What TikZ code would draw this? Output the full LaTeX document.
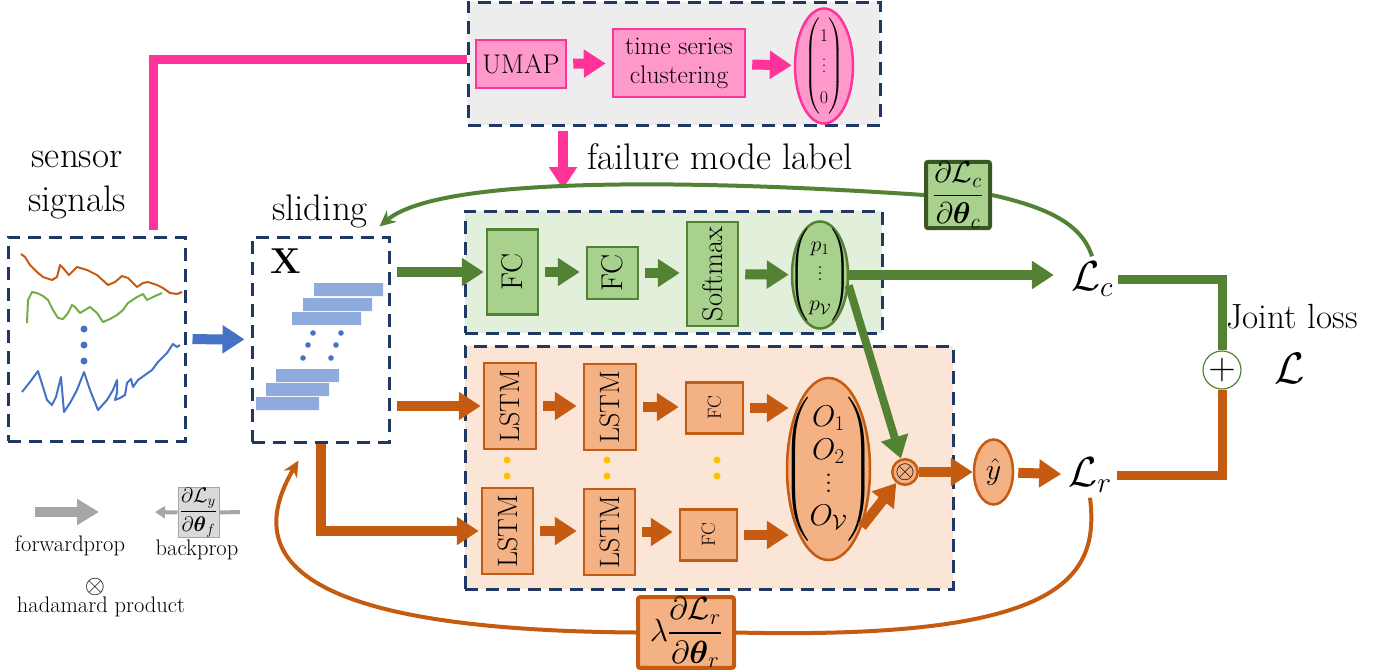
\RequirePackage{fix-cm}
\documentclass[tikz,border=0pt]{standalone}
\usepackage{amsmath, amssymb}
\usepackage{xcolor}
\usetikzlibrary{arrows.meta,shapes.geometric}

\definecolor{pnkL}{HTML}{FF3399}
\definecolor{pnkF}{HTML}{FF99CC}
\definecolor{grnL}{HTML}{548235}
\definecolor{grnS}{HTML}{70AD47}
\definecolor{grnD}{HTML}{385723}
\definecolor{grnF}{HTML}{A9D18E}
\definecolor{grnB}{HTML}{E2EFDA}
\definecolor{orgL}{HTML}{C55A11}
\definecolor{orgF}{HTML}{F4B183}
\definecolor{orgB}{HTML}{FBE5D6}
\definecolor{navy}{HTML}{203864}
\definecolor{bluL}{HTML}{4472C4}
\definecolor{bluF}{HTML}{8FAADC}
\definecolor{yel}{HTML}{FFC000}
\definecolor{gryB}{HTML}{EDEDED}
\definecolor{gryA}{HTML}{A6A6A6}
\definecolor{gryL}{HTML}{D9D9D9}

% vertical dots of a given step
\newcommand\vdotz[1]{\vbox{\baselineskip#1\lineskiplimit0pt\kern1.2#1\hbox{.}\hbox{.}\hbox{.}}}
% centred content that does not widen its node
\newcommand\zbox[1]{\raisebox{-0.25em}[0pt][0pt]{\makebox[0pt]{#1}}}

\begin{document}
\begin{tikzpicture}[x=1pt,y=-1pt,
		every node/.style={inner sep=0pt},
		txt/.style={font=\fontsize{37}{44}\selectfont},
		mid/.style={font=\fontsize{27}{30}\selectfont},
		sml/.style={font=\fontsize{22.5}{25}\selectfont},
		big/.style={font=\fontsize{42}{44}\selectfont},
		grp/.style={draw=navy, line width=3pt, dash pattern=on 13pt off 8pt},
		blk/.style={rectangle, line width=2.5pt, mid},
		pblk/.style={blk, draw=pnkL, fill=pnkF},
		gblk/.style={blk, draw=grnL, fill=grnF},
		oblk/.style={blk, draw=orgL, fill=orgF},
		vec/.style={ellipse, line width=2.5pt},
		arr/.style={line width=10pt, -{Triangle[length=22pt,width=27pt]}, shorten <=6pt, shorten >=6pt},
		grad/.style={line width=4pt, rounded corners=2pt}]
		\useasboundingbox (0,0) rectangle (1385,672);
		% groups
		\node[grp, fill=gryB, minimum width=412pt, minimum height=123pt] (TOPB) at (674,63.5) {};
		\node[grp, fill=grnB, minimum width=417pt, minimum height=122pt] (GRB) at (673.5,272) {};
		\node[grp, fill=orgB, minimum width=488pt, minimum height=243pt] (ORB) at (709,467.5) {};
		\node[grp, minimum width=177pt, minimum height=204pt] (SEN) at (96.5,339) {};
		\node[grp, minimum width=137pt, minimum height=205pt] (SLD) at (320.5,339.5) {};
		%
		\node[txt, align=center] (SST) at (77,185) {sensor\\signals};
		\node[txt] (SLT) at (320,211) {sliding};
		\node[font=\fontsize{36}{40}\selectfont] (XX) at (286,261) {\textbf{X}};
		\node[txt] (FMT) at (720,157) {failure mode label};
		% signals
		\draw[orgL, line width=2pt, line join=round] (21,254) -- (25,257) -- (30,265) -- (37,272) -- (43,277) -- (52,280) -- (57,277) -- (60,265) -- (63,268) -- (69,275) -- (77,267) -- (87,270) -- (97,275) -- (108,285) -- (115,282) -- (122,276) -- (128,278) -- (137,287) -- (143,283) -- (148,282) -- (157,285) -- (163,288) -- (170,293) -- (177,294) -- (182,292);
		\draw[grnS, line width=2pt, line join=round] (27,323) -- (28,300) -- (32,292) -- (37,293) -- (43,296) -- (48,300) -- (53,310) -- (58,318) -- (63,319) -- (68,313) -- (72,305) -- (75,307) -- (80,313) -- (85,310) -- (90,307) -- (97,313) -- (103,322) -- (110,319) -- (117,315) -- (123,310) -- (128,303) -- (137,297) -- (143,294) -- (147,300) -- (153,297) -- (162,293);
		\draw[bluL, line width=2pt, line join=round] (22,392) -- (30,382) -- (38,371) -- (43,387) -- (47,400) -- (52,405) -- (56,397) -- (61,377) -- (64,412) -- (70,403) -- (77,390) -- (84,372) -- (90,390) -- (98,410) -- (107,400) -- (113,390) -- (117,380) -- (117,393) -- (115,400) -- (120,398) -- (125,395) -- (127,383) -- (131,379) -- (133,387) -- (138,380) -- (145,375) -- (152,370) -- (158,362) -- (167,353) -- (173,344) -- (177,347) -- (180,345);
		\fill[bluL] (84,329) circle (3.5pt) (84,345) circle (3.5pt) (84,361) circle (3.5pt);
		% windows
		\fill[bluF] (314,283) rectangle (383,296) (303,298) rectangle (372,311) (292,312) rectangle (361,325)
			(276,369) rectangle (339,382) (266,383) rectangle (329,396) (256,397) rectangle (319,410);
		\fill[bluL] (313,333) circle (2.8pt) (341,333) circle (2.8pt) (308,345) circle (2.8pt) (336,345) circle (2.8pt) (303,358) circle (2.8pt) (331,358) circle (2.8pt);
		% clustering
		\node[pblk, minimum width=90pt, minimum height=48pt] (UMAP) at (521,64) {UMAP};
		\node[pblk, minimum width=132pt, minimum height=68pt, align=center, font=\fontsize{25.5}{29}\selectfont] (TSC) at (679,63) {time series\\clustering};
		\node[vec, draw=pnkL, fill=pnkF, minimum width=58pt, minimum height=115pt, font=\fontsize{18}{20}\selectfont] (ONE) at (824,66)
			{\renewcommand\arraystretch{1.55}\zbox{$\begin{pmatrix}1\\ \vdotz{6pt}\\ 0\end{pmatrix}$}};
		% classifier
		\node[gblk, minimum width=51pt, minimum height=85pt, font=\fontsize{30}{32}\selectfont] (FC1) at (512.5,272) {\rotatebox{90}{FC}};
		\node[gblk, minimum width=51pt, minimum height=52pt, font=\fontsize{30}{32}\selectfont] (FC2) at (612.5,273) {\rotatebox{90}{FC}};
		\node[gblk, minimum width=51pt, minimum height=104pt, font=\fontsize{28.5}{30}\selectfont] (SMX) at (712.5,274) {\rotatebox{90}{Softmax}};
		\node[vec, draw=grnL, fill=grnF, minimum width=56pt, minimum height=107pt, font=\fontsize{22}{26}\selectfont] (PV) at (820,275)
			{\renewcommand\arraystretch{1.15}\zbox{$\begin{pmatrix}p_1\\ \vdotz{6pt}\\ p_{\mathcal{V}}\end{pmatrix}$}};
		% regressor
		\node[oblk, minimum width=52pt, minimum height=86pt, font=\fontsize{28}{30}\selectfont] (LA1) at (510,406) {\rotatebox{90}{LSTM}};
		\node[oblk, minimum width=52pt, minimum height=86pt, font=\fontsize{28}{30}\selectfont] (LA2) at (610,407) {\rotatebox{90}{LSTM}};
		\node[oblk, minimum width=57pt, minimum height=51pt, font=\fontsize{19}{20}\selectfont] (FCA) at (714.5,408) {\rotatebox{90}{FC}};
		\node[oblk, minimum width=51pt, minimum height=86pt, font=\fontsize{28}{30}\selectfont] (LB1) at (507.5,531) {\rotatebox{90}{LSTM}};
		\node[oblk, minimum width=51pt, minimum height=86pt, font=\fontsize{28}{30}\selectfont] (LB2) at (609.5,532) {\rotatebox{90}{LSTM}};
		\node[oblk, minimum width=57pt, minimum height=51pt, font=\fontsize{19}{20}\selectfont] (FCB) at (708.5,535) {\rotatebox{90}{FC}};
		\node[vec, draw=orgL, fill=orgF, minimum width=83pt, minimum height=182pt, font=\fontsize{30}{33}\selectfont] (OV) at (828.5,469)
			{\zbox{$\begin{pmatrix}O_1\\ O_2\\ \vdotz{8pt}\\ O_{\mathcal{V}}\end{pmatrix}$}};
		\fill[yel] (507,460) circle (3.5pt) (507,476) circle (3.5pt) (607,460) circle (3.5pt) (607,476) circle (3.5pt) (717,460) circle (3.5pt) (717,476) circle (3.5pt);
		\node[circle, draw=orgL, fill=orgF, line width=2.5pt, font=\fontsize{25}{25}\selectfont] (MUL) at (905,472) {$\otimes$};
		\node[vec, draw=orgL, fill=orgF, minimum width=39pt, minimum height=65pt, font=\fontsize{30}{30}\selectfont] (YH) at (993.5,472) {\zbox{$\hat{y}$}};
		% losses
		\node[big, inner sep=5pt] (LC) at (1092,279) {$\mathcal{L}_c$};
		\node[big, inner sep=5pt] (LR) at (1090,475) {$\mathcal{L}_r$};
		\node[circle, draw=grnL, fill=white, line width=1.2pt, minimum size=38pt, font=\fontsize{38}{38}\selectfont] (ADD) at (1222,370) {$+$};
		\node[font=\fontsize{35}{40}\selectfont] (JLT) at (1292,317) {Joint loss};
		\node[font=\fontsize{44}{44}\selectfont] (JL) at (1290,368) {$\mathcal{L}$};
		\node[draw=grnD, fill=grnF, grad, minimum width=64pt, minimum height=60pt, font=\fontsize{30}{30}\selectfont] (DLC) at (958,195)
			{$\displaystyle\frac{\partial\mathcal{L}_c}{\partial\boldsymbol{\theta}_c}$};
		\node[draw=orgL, fill=orgF, grad, minimum width=96pt, minimum height=61pt, font=\fontsize{32}{32}\selectfont] (BLR) at (686,632.5)
			{$\displaystyle\lambda\frac{\partial\mathcal{L}_r}{\partial\boldsymbol{\theta}_r}$};
		% legend
		\coordinate (FW1) at (35,512);
		\coordinate (FW2) at (99,512);
		\coordinate (BP1) at (240,512);
		\coordinate (BP2) at (155,512);
		\node[draw=gryA, fill=gryL, line width=1pt, minimum width=41pt, minimum height=41pt, font=\fontsize{21}{21}\selectfont] (BPB) at (198.5,512.5)
			{$\displaystyle\frac{\partial\mathcal{L}_y}{\partial\boldsymbol{\theta}_f}$};
		\node[sml] (FWT) at (70,546) {forwardprop};
		\node[sml] (BPT) at (197,550) {backprop};
		\node[font=\fontsize{26}{26}\selectfont] (HDS) at (95,587) {$\otimes$};
		\node[sml] (HDT) at (101,607) {hadamard product};
		%
		\draw[gryA, line width=10pt, -{Triangle[length=22pt,width=25pt]}] (FW1) -- (FW2);
		\draw[gryA, line width=4pt] (BP1) -- (BPB.east);
		\draw[gryA, line width=4pt, -{Triangle[length=10pt,width=12pt]}] (BPB.west) -- (BP2);
		% connectors
		\coordinate (FML) at (563,189);
		\draw[pnkL, line width=9pt] ([xshift=56.5pt,yshift=6pt]SEN.north) |- ([yshift=4pt]TOPB.west);
		\draw[arr, draw=pnkL, shorten <=4pt, shorten >=0pt] (TOPB.south -| FML) -- (FML);
		\draw[arr, draw=pnkL] (UMAP) -- (TSC);
		\draw[arr, draw=pnkL, shorten >=2pt] (TSC) -- (ONE);
		\draw[arr, draw=bluL] (SEN) -- (SLD);
		%
		\draw[arr, draw=grnL, shorten >=2pt] (SLD.east |- FC1) -- (FC1.west);
		\draw[arr, draw=grnL] (FC1) -- (FC1 -| FC2.west);
		\draw[arr, draw=grnL] (FC2) -- (FC2 -| SMX.west);
		\draw[arr, draw=grnL, shorten >=2pt] (SMX) -- (PV);
		\draw[arr, draw=grnL, shorten <=0pt, shorten >=12pt] (PV.east) -- (PV.east -| LC.west);
		\draw[arr, draw=grnL, line width=8pt, shorten <=0pt, shorten >=0pt] (PV.-20) -- (MUL);
		%
		\draw[arr, draw=orgL, shorten >=2pt] (SLD.east |- LA1) -- (LA1.west);
		\draw[arr, draw=orgL, shorten <=0pt, shorten >=2pt] (SLD.south) |- (LB1.west);
		\draw[arr, draw=orgL] (LA1) -- (LA1 -| LA2.west);
		\draw[arr, draw=orgL] (LA2) -- (LA2 -| FCA.west);
		\draw[arr, draw=orgL, shorten >=-3pt] (FCA.east) -- (FCA.east -| OV.west);
		\draw[arr, draw=orgL] (LB1) -- (LB1 -| LB2.west);
		\draw[arr, draw=orgL] (LB2) -- (LB2 -| FCB.west);
		\draw[arr, draw=orgL, shorten >=-3pt] (FCB.east) -- (FCB.east -| OV.west);
		\draw[arr, draw=orgL, shorten <=0pt, shorten >=0pt] (OV.-60) -- (MUL);
		\draw[arr, draw=orgL, shorten <=0pt, shorten >=0pt] (MUL) -- (YH);
		\draw[arr, draw=orgL, shorten <=4pt, shorten >=2pt] (YH) -- (LR);
		%
		\draw[grnL, line width=9pt] (LC.east) -| (ADD.north);
		\draw[orgL, line width=9pt] (LR.east) -| (ADD.south);
		\draw[grnL, line width=4pt] (LC.north) .. controls (1082,225) and (1050,208) .. (DLC.east);
		\draw[grnL, line width=4pt, -{Stealth[length=16pt,width=15pt]}] (DLC.west) .. controls (700,180) and (440,175) .. ([xshift=-11pt,yshift=9pt]SLD.north east);
		\draw[orgL, line width=4pt] (LR.south) .. controls (1100,580) and (1060,640) .. (BLR.east);
		\draw[orgL, line width=4pt, -{Stealth[length=16pt,width=15pt]}] (BLR.west) .. controls (300,630) and (240,560) .. ([xshift=-22pt,yshift=-17pt]SLD.south);
\end{tikzpicture}
\end{document}
